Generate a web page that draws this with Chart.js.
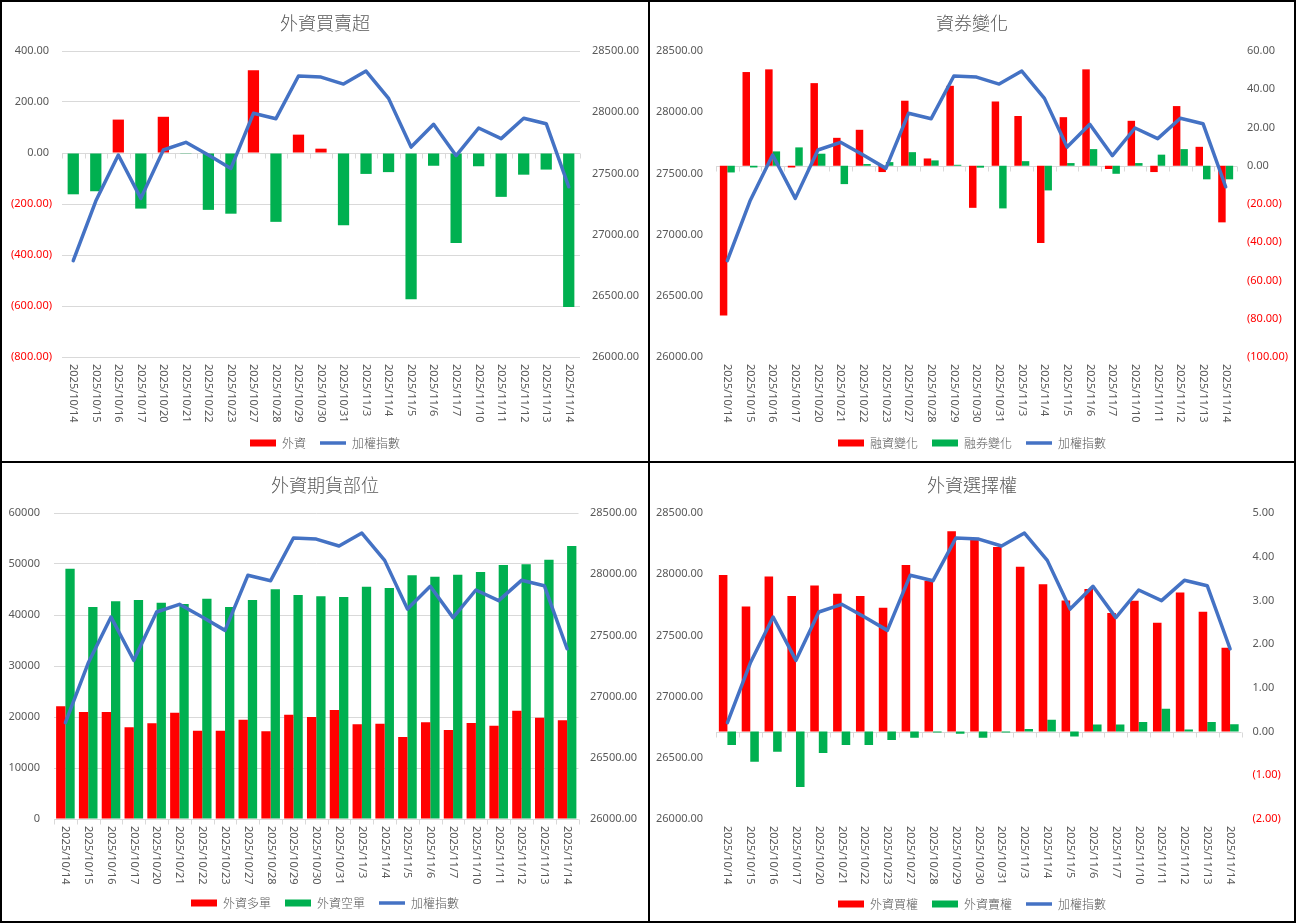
<!DOCTYPE html>
<html lang="zh-Hant">
<head>
<meta charset="utf-8">
<title>外資籌碼</title>
<script src="https://cdn.jsdelivr.net/npm/chart.js@4.4.1/dist/chart.umd.min.js"></script>
<style>
  html, body { margin: 0; padding: 0; background: #fff; }
  #board { position: relative; width: 1297px; height: 924px; overflow: hidden; }
  #board canvas { position: absolute; }
  .frame { position: absolute; left: 0; top: 0; width: 1296px; height: 923px; border: 2px solid #000; box-sizing: border-box; }
  .vline { position: absolute; left: 648px; top: 0; width: 2px; height: 923px; background: #000; }
  .hline { position: absolute; left: 0; top: 461px; width: 1296px; height: 2px; background: #000; }
</style>
</head>
<body>
<div id="board">
  <canvas id="netBuy" width="646" height="459" style="left:2px;top:2px"></canvas>
  <canvas id="margin" width="644" height="459" style="left:650px;top:2px"></canvas>
  <canvas id="futures" width="646" height="459" style="left:2px;top:463px"></canvas>
  <canvas id="options" width="644" height="459" style="left:650px;top:463px"></canvas>
  <div class="frame"></div>
  <div class="vline"></div>
  <div class="hline"></div>
</div>
<script>
// trading days
var days = ["2025/10/14", "2025/10/15", "2025/10/16", "2025/10/17", "2025/10/20", "2025/10/21",
            "2025/10/22", "2025/10/23", "2025/10/27", "2025/10/28", "2025/10/29", "2025/10/30",
            "2025/10/31", "2025/11/3", "2025/11/4", "2025/11/5", "2025/11/6", "2025/11/7",
            "2025/11/10", "2025/11/11", "2025/11/12", "2025/11/13", "2025/11/14"];

// 加權指數
var taiex = [26787, 27274, 27650, 27296, 27691, 27754, 27650, 27541, 27991, 27947, 28296, 28287,
             28230, 28336, 28113, 27715, 27901, 27645, 27871, 27784, 27950, 27906, 27391];

// 外資買賣超 (億)
var foreignNet = [-162, -150, 131, -218, 142, -1, -223, -238, 325, -270, 72, 17,
                  -283, -82, -75, -574, -50, -353, -52, -172, -85, -65, -604];

// 融資變化 / 融券變化
var marginChg = [-78.3, 49.0, 50.4, -0.9, 43.2, 14.6, 18.8, -3.3, 34.0, 3.8, 41.8, -22.0,
                 33.6, 26.0, -40.4, 25.4, 50.4, -1.7, 23.5, -3.3, 31.2, 9.9, -29.6];
var shortChg = [-3.5, -0.9, 7.5, 9.6, 6.3, -9.6, 0.9, 1.9, 7.1, 2.8, 0.5, -1.0,
                -22.3, 2.4, -12.9, 1.4, 8.7, -4.2, 1.4, 5.8, 8.7, -7.1, -7.1];

// 外資期貨多單 / 空單 (口)
var futLong = [22092, 20981, 20981, 17974, 18758, 20850, 17320, 17320, 19477, 17190, 20458, 20000,
               21373, 18562, 18693, 16079, 18954, 17451, 18824, 18301, 21242, 19869, 19347];
var futShort = [49085, 41569, 42680, 42942, 42419, 42157, 43203, 41569, 42942, 45033, 43922, 43660,
                43530, 45556, 45294, 47778, 47517, 47909, 48432, 49804, 49935, 50850, 53530];

// 外資買權 / 賣權 (億)
var callNet = [3.58, 2.86, 3.55, 3.10, 3.34, 3.15, 3.10, 2.83, 3.81, 3.45, 4.58, 4.40,
               4.22, 3.77, 3.37, 3.00, 3.26, 2.71, 2.99, 2.49, 3.18, 2.74, 1.92];
var putNet = [-0.31, -0.69, -0.46, -1.27, -0.49, -0.31, -0.31, -0.19, -0.14, -0.02, -0.05, -0.14,
              -0.02, 0.06, 0.27, -0.11, 0.16, 0.16, 0.22, 0.52, 0.05, 0.22, 0.17];

var RED = '#FF0000', GREEN = '#00B050', BLUE = '#4472C4';
var GRAY = '#595959', AXIS = '#D9D9D9';
var NUM_FONT = '"Noto Sans", sans-serif';
var CJK_FONT = '"Noto Sans CJK TC", "Noto Sans", sans-serif';

// excel style numbers: (200.00) for negatives
function money(v) {
    return v < 0 ? '(' + Math.abs(v).toFixed(2) + ')' : v.toFixed(2) + ' ';
}
function tickColor(ctx) {
    return ctx.tick && ctx.tick.value < 0 ? RED : GRAY;
}

// category axis line at zero + rotated date labels
var categoryAxis = {
    id: 'categoryAxis',
    beforeDatasetsDraw: function(chart, args, opts) {
        var ctx = chart.ctx, area = chart.chartArea, x = chart.scales.x;
        var y0 = Math.round(chart.scales[opts.zeroScale].getPixelForValue(0)) + 0.5;
        ctx.save();
        ctx.strokeStyle = AXIS;
        ctx.lineWidth = 1;
        ctx.beginPath();
        ctx.moveTo(area.left, y0);
        ctx.lineTo(area.right, y0);
        for (var i = 0; i <= chart.data.labels.length; i++) {
            var px = Math.round(x.getPixelForValue(i - 0.5)) + 0.5;
            ctx.moveTo(px, y0);
            ctx.lineTo(px, y0 + 5);
        }
        ctx.stroke();
        ctx.restore();
    },
    afterDraw: function(chart) {
        var ctx = chart.ctx, area = chart.chartArea, x = chart.scales.x;
        ctx.save();
        ctx.fillStyle = GRAY;
        ctx.font = '11px ' + NUM_FONT;
        ctx.textAlign = 'left';
        ctx.textBaseline = 'middle';
        chart.data.labels.forEach(function(label, i) {
            ctx.save();
            ctx.translate(x.getPixelForValue(i), area.bottom + 7);
            ctx.rotate(Math.PI / 2);
            ctx.fillText(label, 0, 0);
            ctx.restore();
        });
        ctx.restore();
    }
};

function axis(side, min, max, step, width, pad, fmt, grid) {
    return {
        position: side,
        min: min,
        max: max,
        ticks: {
            stepSize: step,
            padding: pad,
            color: tickColor,
            font: { family: NUM_FONT, size: 11 },
            callback: fmt
        },
        grid: { display: !!grid, color: AXIS, drawTicks: false },
        border: { display: false },
        afterFit: function(scale) { scale.width = width; }
    };
}

function indexLine(axisId) {
    return {
        type: 'line',
        label: '加權指數',
        data: taiex,
        yAxisID: axisId,
        borderColor: BLUE,
        backgroundColor: BLUE,
        borderWidth: 3.5,
        borderJoinStyle: 'round',
        borderCapStyle: 'round',
        pointRadius: 0,
        pointStyle: 'line',
        tension: 0,
        order: -1
    };
}

function barSet(label, data, color, axisId) {
    return {
        type: 'bar',
        label: label,
        data: data,
        yAxisID: axisId,
        backgroundColor: color,
        borderWidth: 0,
        pointStyle: 'rect'
    };
}

function panel(id, title, datasets, scales, lay) {
    return new Chart(document.getElementById(id), {
        data: { labels: days, datasets: datasets },
        options: {
            responsive: false,
            animation: false,
            layout: { padding: { left: 0, right: 0, top: 0, bottom: lay.bottomPad } },
            datasets: { bar: { categoryPercentage: lay.cat, barPercentage: 1 } },
            scales: Object.assign({
                x: {
                    ticks: { display: false },
                    grid: { display: false },
                    border: { display: false },
                    afterFit: function(scale) { scale.height = lay.xHeight; }
                }
            }, scales),
            plugins: {
                title: {
                    display: true,
                    text: title,
                    color: GRAY,
                    font: { family: CJK_FONT, size: 18, weight: '300' },
                    padding: { top: lay.titleTop, bottom: lay.titleBottom }
                },
                legend: {
                    position: 'bottom',
                    labels: {
                        usePointStyle: true,
                        pointStyleWidth: 26,
                        boxHeight: 7,
                        padding: 14,
                        color: GRAY,
                        font: { family: CJK_FONT, size: 12, weight: '300' },
                        sort: function(a, b) { return a.datasetIndex - b.datasetIndex; },
                        generateLabels: lay.legendFix || Chart.defaults.plugins.legend.labels.generateLabels
                    }
                },
                tooltip: { enabled: false },
                categoryAxis: { zeroScale: lay.zero }
            }
        },
        plugins: [categoryAxis]
    });
}

function fixed0(v) { return v.toFixed(0); }
function fixed2(v) { return v.toFixed(2); }

// 外資買賣超
var netBar = barSet('外資', foreignNet, function(ctx) { return ctx.raw < 0 ? GREEN : RED; }, 'y');
panel('netBuy', '外資買賣超', [netBar, indexLine('y1')], {
    y: axis('left', -800, 400, 200, 60, 10, money, true),
    y1: axis('right', 26000, 28500, 500, 68, 12, fixed2, false)
}, {
    cat: 0.5, xHeight: 66, bottomPad: 2, titleTop: 10, titleBottom: 17.4, zero: 'y',
    legendFix: function(chart) {
        var items = Chart.defaults.plugins.legend.labels.generateLabels(chart);
        items.forEach(function(it) { if (it.datasetIndex === 0) { it.fillStyle = RED; it.strokeStyle = RED; } });
        return items;
    }
});

// 資券變化
panel('margin', '資券變化', [
    barSet('融資變化', marginChg, RED, 'y1'),
    barSet('融券變化', shortChg, GREEN, 'y1'),
    indexLine('y')
], {
    y: axis('left', 26000, 28500, 500, 66, 13, fixed2, false),
    y1: axis('right', -100, 60, 20, 57, 10, money, false)
}, { cat: 0.66, xHeight: 66, bottomPad: 2, titleTop: 10, titleBottom: 17.4, zero: 'y1' });

// 外資期貨部位
panel('futures', '外資期貨部位', [
    barSet('外資多單', futLong, RED, 'y'),
    barSet('外資空單', futShort, GREEN, 'y'),
    indexLine('y1')
], {
    y: axis('left', 0, 60000, 10000, 52, 14, fixed0, true),
    y1: axis('right', 26000, 28500, 500, 69.5, 11.5, fixed2, false)
}, { cat: 0.815, xHeight: 64, bottomPad: 3, titleTop: 11, titleBottom: 17.4, zero: 'y' });

// 外資選擇權
panel('options', '外資選擇權', [
    barSet('外資買權', callNet, RED, 'y1'),
    barSet('外資賣權', putNet, GREEN, 'y1'),
    indexLine('y')
], {
    y: axis('left', 26000, 28500, 500, 66, 13, fixed2, false),
    y1: axis('right', -2, 5, 1, 52.5, 11, money, false)
}, { cat: 0.75, xHeight: 65, bottomPad: 2, titleTop: 11, titleBottom: 17.4, zero: 'y1' });
</script>
</body>
</html>
